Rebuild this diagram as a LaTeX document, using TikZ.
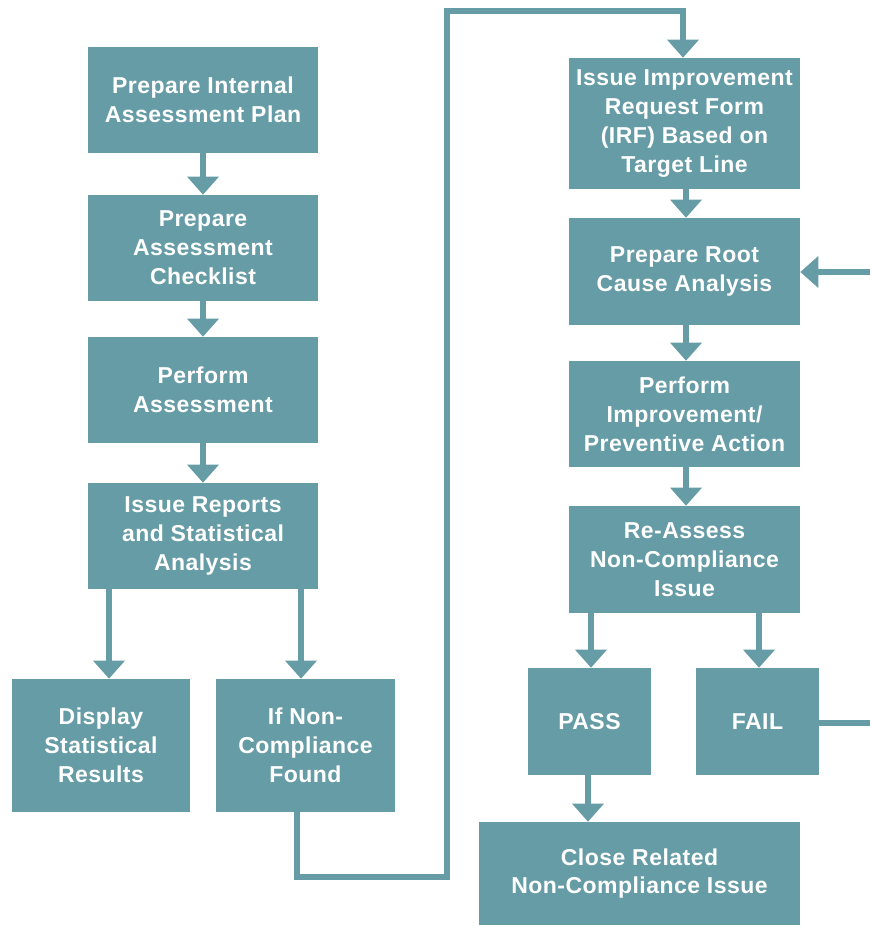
\documentclass[tikz,border=0pt]{standalone}
\usepackage{fontspec}
\setmainfont{Liberation Sans}[LetterSpace=2]
\usetikzlibrary{arrows.meta}
\definecolor{teal}{HTML}{669CA6}
\tikzset{
  box/.style={fill=teal, draw=none, text=white, align=center, inner sep=0pt,
    font=\fontsize{17.25pt}{21.6pt}\selectfont\bfseries},
  link/.style={draw=teal, line width=4.5pt, line join=miter},
  arr/.style={link, -{Triangle[width=23pt,length=13.5pt]}}
}
\begin{document}
\begin{tikzpicture}[x=0.75pt,y=-0.75pt]
\useasboundingbox (0,0) rectangle (870,927);
% left column
\node[box, minimum width={230*0.75pt}, minimum height={106*0.75pt}] (b1) at (203,100) {Prepare Internal\\Assessment Plan};
\node[box, minimum width={230*0.75pt}, minimum height={106*0.75pt}] (b2) at (203,248) {Prepare\\Assessment\\Checklist};
\node[box, minimum width={230*0.75pt}, minimum height={106*0.75pt}] (b3) at (203,390) {Perform\\Assessment};
\node[box, minimum width={230*0.75pt}, minimum height={106*0.75pt}] (b4) at (203,536) {Issue Reports\\and Statistical\\Analysis};
\node[box, minimum width={178*0.75pt}, minimum height={133*0.75pt}] (b5) at (101,745.5) {Display\\Statistical\\Results};
\node[box, minimum width={179*0.75pt}, minimum height={133*0.75pt}] (b6) at (305.5,745.5) {If Non-\\Compliance\\Found};
% right column
\node[box, minimum width={231*0.75pt}, minimum height={131*0.75pt}] (b7) at (684.5,123.5) {Issue Improvement\\Request Form\\(IRF) Based on\\Target Line};
\node[box, minimum width={231*0.75pt}, minimum height={107*0.75pt}] (b8) at (684.5,271.5) {Prepare Root\\Cause Analysis};
\node[box, minimum width={231*0.75pt}, minimum height={106*0.75pt}] (b9) at (684.5,414) {Perform\\Improvement/\\Preventive Action};
\node[box, minimum width={231*0.75pt}, minimum height={107*0.75pt}] (b10) at (684.5,559.5) {Re-Assess\\Non-Compliance\\Issue};
\node[box, minimum width={123*0.75pt}, minimum height={107*0.75pt}] (pass) at (589.5,721.5) {PASS};
\node[box, minimum width={123*0.75pt}, minimum height={107*0.75pt}] (fail) at (757.5,721.5) {FAIL};
\node[box, minimum width={321*0.75pt}, minimum height={103*0.75pt}] (close) at (639.5,873.5) {Close Related\\Non-Compliance Issue};
% helper coordinates
\coordinate (c1) at (447,877);
\coordinate (c2) at (683,11);
\coordinate (e1) at (870,272);
\coordinate (e2) at (870,723);
% connectors
\draw[arr] (b1.south -| 203,0) -- (b2.north -| 203,0);
\draw[arr] (b2.south -| 203,0) -- (b3.north -| 203,0);
\draw[arr] (b3.south -| 203,0) -- (b4.north -| 203,0);
\draw[arr] (b4.south -| 109,0) -- (b5.north -| 109,0);
\draw[arr] (b4.south -| 301,0) -- (b6.north -| 301,0);
\draw[arr] (b6.south -| 297,0) |- (c1) |- (c2) -- (b7.north -| c2);
\draw[arr] (b7.south -| 686,0) -- (b8.north -| 686,0);
\draw[arr] (b8.south -| 686,0) -- (b9.north -| 686,0);
\draw[arr] (b9.south -| 686,0) -- (b10.north -| 686,0);
\draw[arr] (b10.south -| 591,0) -- (pass.north -| 591,0);
\draw[arr] (b10.south -| 759,0) -- (fail.north -| 759,0);
\draw[arr] (pass.south -| 588,0) -- (close.north -| 588,0);
\draw[arr] (e1) -- (b8.east |- e1);
\draw[link] (fail.east |- e2) -- (e2);
\end{tikzpicture}
\end{document}
